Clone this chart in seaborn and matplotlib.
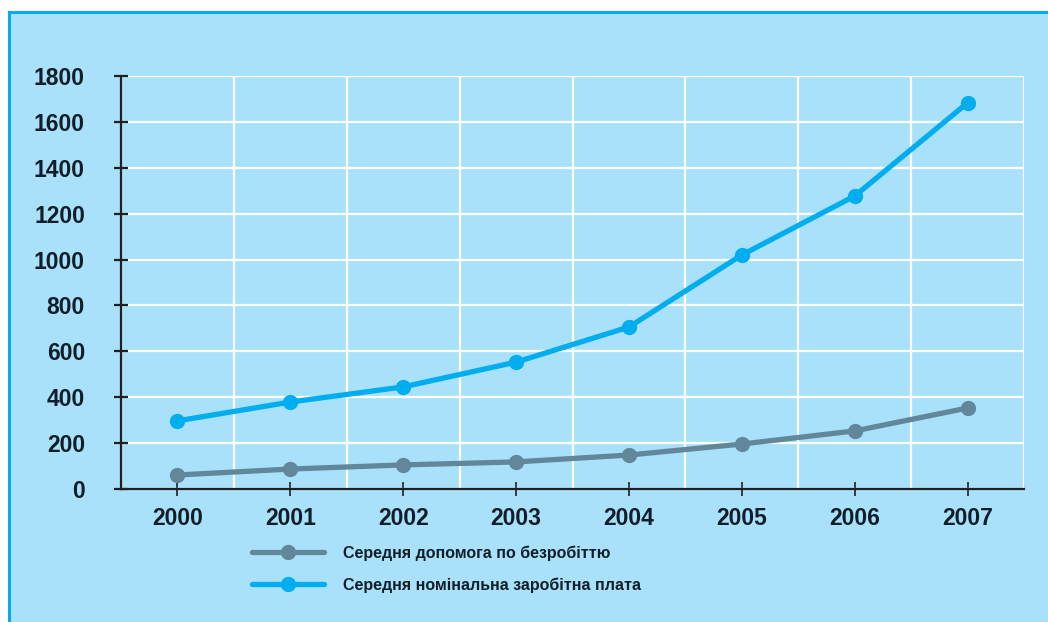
import matplotlib
matplotlib.use('Agg')
import matplotlib.pyplot as plt
import seaborn as sns
import pandas as pd
from matplotlib.patches import Rectangle
from matplotlib.lines import Line2D

years = ['2000', '2001', '2002', '2003', '2004', '2005', '2006', '2007']
benefit = [61, 87, 105, 118, 148, 196, 253, 353]
wage = [297, 379, 445, 553, 706, 1020, 1277, 1683]
series_names = ['Середня допомога по безробіттю', 'Середня номінальна заробітна плата']
y_ticks = [0, 200, 400, 600, 800, 1000, 1200, 1400, 1600, 1800]

BG = '#A9E1FA'
BORDER = '#00AEEF'
GRAY = '#62879A'
BLUE = '#00AEEF'
DARK = '#231F20'

sns.set_theme(style='white')
plt.rcParams['font.family'] = ['Liberation Sans', 'DejaVu Sans']

df = pd.DataFrame({
    'x': list(range(len(years))) * 2,
    'value': benefit + wage,
    'series': [series_names[0]] * len(years) + [series_names[1]] * len(years),
})

fig = plt.figure(figsize=(10.48, 6.22), dpi=100)
fig.patch.set_facecolor('white')
W, H = 1048, 622
fig.patches.append(Rectangle((8 / W, 0), 1 - 8 / W, (H - 11) / H, transform=fig.transFigure,
                             facecolor=BG, edgecolor='none', zorder=-10))
fig.patches.append(Rectangle((8 / W, 0), 3 / W, (H - 11) / H, transform=fig.transFigure,
                             facecolor=BORDER, edgecolor='none', zorder=-9))
fig.patches.append(Rectangle((8 / W, (H - 14) / H), 1 - 8 / W, 3 / H, transform=fig.transFigure,
                             facecolor=BORDER, edgecolor='none', zorder=-9))

ax = fig.add_axes([121 / W, (H - 489) / H, (1024 - 121) / W, (489 - 76) / H])
ax.patch.set_alpha(0)

palette = {series_names[0]: GRAY, series_names[1]: BLUE}
sns.lineplot(data=df, x='x', y='value', hue='series', palette=palette, ax=ax,
             marker='o', markersize=11, linewidth=3.8, markeredgewidth=0, legend=False,
             zorder=3)

ax.set_xlim(-0.5, 7.5)
ax.set_ylim(0, 1800)
ax.set_xticks(range(len(years)))
ax.set_xticklabels(years)
ax.set_yticks(y_ticks)
ax.set_yticklabels([str(v) for v in y_ticks])
ax.set_xticks([i + 0.5 for i in range(-1, len(years))], minor=True)
ax.set_axisbelow(True)
ax.grid(which='minor', axis='x', color='white', lw=1.6)
ax.grid(which='major', axis='y', color='white', lw=1.6)
ax.grid(which='major', axis='x', visible=False)
ax.set_xlabel('')
ax.set_ylabel('')

for s in ['top', 'right']:
    ax.spines[s].set_visible(False)
for s in ['left', 'bottom']:
    ax.spines[s].set_color(DARK)
    ax.spines[s].set_linewidth(1.6)

ax.tick_params(which='minor', length=0, bottom=False, left=False)
ax.tick_params(axis='y', which='major', left=True, direction='inout', length=10, width=1.6,
               color=DARK, pad=21, labelsize=16.5, labelcolor='#0F1E28')
ax.tick_params(axis='x', which='major', bottom=True, direction='inout', length=10, width=1.2,
               color=DARK, pad=8, labelsize=16.5, labelcolor='#0F1E28')
for lbl in ax.get_xticklabels() + ax.get_yticklabels():
    lbl.set_fontweight('bold')

handles = [Line2D([], [], color=GRAY, lw=3.8, marker='o', markersize=11, markeredgewidth=0),
           Line2D([], [], color=BLUE, lw=3.8, marker='o', markersize=11, markeredgewidth=0)]
leg = fig.legend(handles, series_names, loc='center left',
                 bbox_to_anchor=(252 / W, 1 - 569 / H), frameon=False,
                 borderpad=0, borderaxespad=0, handlelength=4.5, handletextpad=1.2,
                 labelspacing=1.05, prop={'size': 11.5, 'weight': 'bold'})
for t in leg.get_texts():
    t.set_color('#0F1E28')

fig.savefig('out.png', dpi=100, facecolor='white')
